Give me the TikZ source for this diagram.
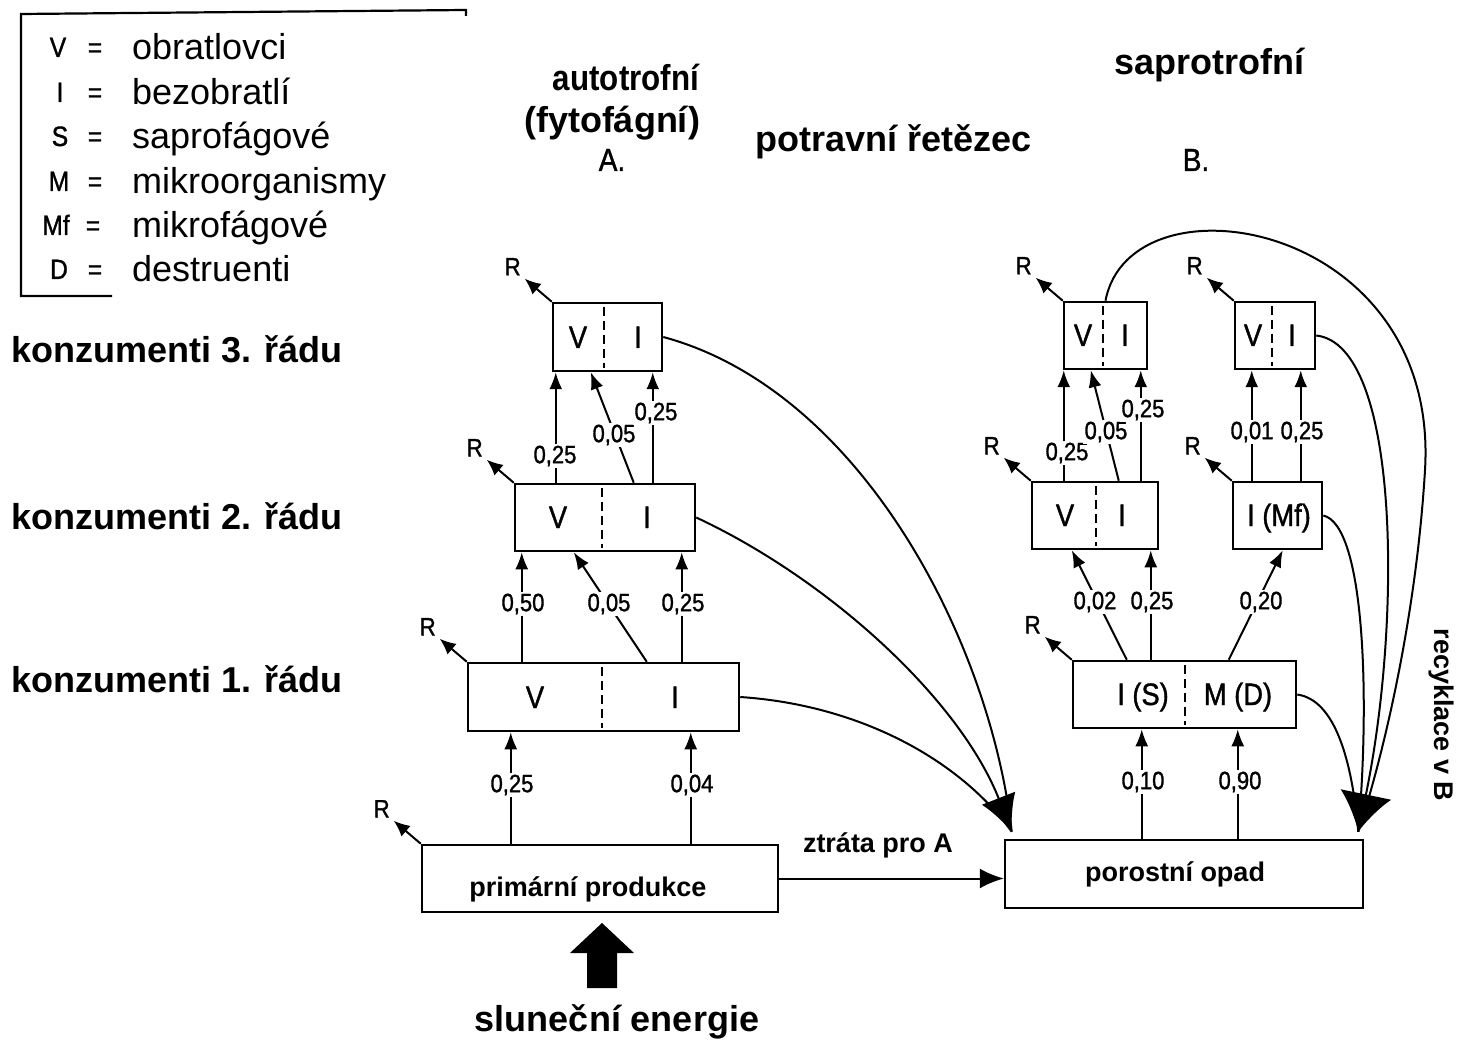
\documentclass[tikz,border=0pt]{standalone}
\usepackage{fontspec}
\usepackage{graphicx}
\setmainfont{Liberation Sans}
\newfontfamily\dinfont[FakeStretch=0.88,FakeBold=1.2]{Liberation Sans}
\usetikzlibrary{arrows.meta,calc}
\begin{document}
\begin{tikzpicture}[x=1pt,y=-1pt,
  box/.style={draw,line width=2.5pt,inner sep=0pt},
  boxtxt/.style={font=\dinfont\fontsize{31}{31}\selectfont,inner sep=0pt,anchor=base},
  lab/.style={fill=white,inner sep=2pt,font=\dinfont\fontsize{25}{25}\selectfont},
  flow/.style={line width=2pt,-{Latex[length=17pt,width=13pt]}},
  rarr/.style={line width=2pt,-{Latex[length=16pt,width=14pt]}},
  rlab/.style={font=\dinfont\fontsize{25}{25}\selectfont,inner sep=0pt},
  curve/.style={line width=2pt},
  bigA/.style={curve,-{Latex[length=36pt,width=36pt]}},
  bigB/.style={curve,-{Latex[length=38pt,width=52pt]}},
  big/.style={font=\fontsize{36}{40}\selectfont\bfseries,inner sep=0pt},
  mid/.style={font=\fontsize{27}{30}\selectfont\bfseries,inner sep=0pt},
  din/.style={font=\dinfont\fontsize{32}{32}\selectfont,inner sep=0pt},
  legtxt/.style={font=\fontsize{36}{40}\selectfont,inner sep=0pt,anchor=base west},
  leglet/.style={font=\dinfont\fontsize{28}{28}\selectfont,inner sep=0pt,anchor=base},
  divider/.style={line width=2pt,dash pattern=on 9pt off 5pt}]
\useasboundingbox (0,0) rectangle (1459,1048);

% ---------- legend ----------
\draw[line width=2.2pt] (112,296) -- (21,296) -- (21,14) -- (466,10) -- (466,16);
\node[leglet] (lV)  at (58,57)  {V};   \node[leglet] (lVe)  at (95,57)  {=};
\node[leglet] (lI)  at (60,102) {I};   \node[leglet] (lIe)  at (95,102) {=};
\node[leglet] (lS)  at (60,146) {S};   \node[leglet] (lSe)  at (95,146) {=};
\node[leglet] (lM)  at (59,191) {M};   \node[leglet] (lMe)  at (95,191) {=};
\node[leglet] (lMf) at (56,235) {Mf};  \node[leglet] (lMfe) at (93,235) {=};
\node[leglet] (lD)  at (59,279) {D};   \node[leglet] (lDe)  at (95,279) {=};
\node[legtxt] (tV)  at (132,60)  {obratlovci};
\node[legtxt] (tI)  at (132,105) {bezobratlí};
\node[legtxt] (tS)  at (132,149) {saprofágové};
\node[legtxt] (tM)  at (132,194) {mikroorganismy};
\node[legtxt] (tMf) at (132,238) {mikrofágové};
\node[legtxt] (tD)  at (132,282) {destruenti};

% ---------- level labels ----------
\node[big,anchor=base west] (k3) at (11,363) {konzumenti 3. řádu};
\node[big,anchor=base west] (k2) at (11,529) {konzumenti 2. řádu};
\node[big,anchor=base west] (k1) at (11,692) {konzumenti 1. řádu};

% ---------- titles ----------
\node[big,anchor=base] (t1) at (626,91)  {\scalebox{0.87}[1]{autotrofní}};
\node[big,anchor=base] (t2) at (612,133) {(fytofágní)};
\node[din,anchor=base] (tA) at (612,171) {A.};
\node[big,anchor=base] (t3) at (894,152) {potravní řetězec};
\node[big,anchor=base] (t4) at (1209,75) {saprotrofní};
\node[din,anchor=base] (tB) at (1196,171) {B.};

% ---------- boxes A ----------
\node[box,minimum width=109,minimum height=68] (a3) at (607.5,337) {};
\node[box,minimum width=180,minimum height=67] (a2) at (605,517.5) {};
\node[box,minimum width=271,minimum height=68] (a1) at (603.5,697) {};
\node[box,minimum width=356,minimum height=67] (pp) at (600,878.5) {};
\draw[divider] ($(a3.north west)+(52,5)$) -- ($(a3.south west)+(52,-4)$);
\draw[divider] ($(a2.north west)+(88,5)$) -- ($(a2.south west)+(88,-4)$);
\draw[divider] ($(a1.north west)+(135,5)$) -- ($(a1.south west)+(135,-4)$);
\node[boxtxt] (a3v) at (578,348) {V};
\node[boxtxt] (a3i) at (638,348) {I};
\node[boxtxt] (a2v) at (558,528) {V};
\node[boxtxt] (a2i) at (647,528) {I};
\node[boxtxt] (a1v) at (535,708) {V};
\node[boxtxt] (a1i) at (675,708) {I};
\node[mid,anchor=base] (ppt) at (588,896) {primární produkce};

% ---------- boxes B ----------
\node[box,minimum width=358,minimum height=68] (opad) at (1184,874) {};
\node[box,minimum width=223,minimum height=67] (is) at (1184.5,694.5) {};
\node[box,minimum width=126,minimum height=67] (b2l) at (1095,515.5) {};
\node[box,minimum width=89,minimum height=67] (mf) at (1277.5,515.5) {};
\node[box,minimum width=83,minimum height=67] (b3l) at (1105.5,335.5) {};
\node[box,minimum width=80,minimum height=67] (b3r) at (1275,335.5) {};
\draw[divider] ($(is.north west)+(113,5)$) -- ($(is.south west)+(113,-4)$);
\draw[divider] ($(b2l.north west)+(65,5)$) -- ($(b2l.south west)+(65,-4)$);
\draw[divider] ($(b3l.north west)+(40,5)$) -- ($(b3l.south west)+(40,-4)$);
\draw[divider] ($(b3r.north west)+(38,5)$) -- ($(b3r.south west)+(38,-4)$);
\node[boxtxt] (b3lv) at (1083,346) {V};
\node[boxtxt] (b3li) at (1125,346) {I};
\node[boxtxt] (b3rv) at (1253,346) {V};
\node[boxtxt] (b3ri) at (1292,346) {I};
\node[boxtxt] (b2lv) at (1065,526) {V};
\node[boxtxt] (b2li) at (1122,526) {I};
\node[boxtxt] (mft) at (1279,526) {I (Mf)};
\node[boxtxt] (ist) at (1143,705) {I (S)};
\node[boxtxt] (imd) at (1238,705) {M (D)};
\node[mid,anchor=base] (opt) at (1175,881) {porostní opad};

% ---------- R arrows ----------
\foreach \b in {a3,a2,a1,pp,is,b2l,mf,b3l,b3r}{
  \coordinate (r\b) at ($(\b.north west)+(-27,-23)$);
  \draw[rarr] (\b.north west) -- (r\b);
  \node[rlab] (R\b) at ($(\b.north west)+(-39,-35)$) {R};
}

% ---------- flows A ----------
\draw[flow] ([xshift=90]pp.north west) -- ([xshift=44]a1.south west);
\draw[flow] ([xshift=270]pp.north west) -- ([xshift=224]a1.south west);
\draw[flow] ([xshift=55]a1.north west) -- ([xshift=8]a2.south west);
\draw[flow] ([xshift=180]a1.north west) -- ([xshift=60]a2.south west);
\draw[flow] ([xshift=215]a1.north west) -- ([xshift=168]a2.south west);
\draw[flow] ([xshift=42]a2.north west) -- ([xshift=4]a3.south west);
\draw[flow] ([xshift=120]a2.north west) -- ([xshift=39]a3.south west);
\draw[flow] ([xshift=139]a2.north west) -- ([xshift=101]a3.south west);
\node[lab] (l1) at (512,785) {0,25};
\node[lab] (l2) at (692,785) {0,04};
\node[lab] (l3) at (523,604) {0,50};
\node[lab] (l4) at (609,604) {0,05};
\node[lab] (l5) at (683,604) {0,25};
\node[lab] (l6) at (555,456) {0,25};
\node[lab] (l7) at (614,435) {0,05};
\node[lab] (l8) at (656,413) {0,25};

% ---------- flows B ----------
\draw[flow] ([xshift=138]opad.north west) -- ([xshift=70]is.south west);
\draw[flow] ([xshift=234]opad.north west) -- ([xshift=166]is.south west);
\draw[flow] ([xshift=55]is.north west) -- ([xshift=41]b2l.south west);
\draw[flow] ([xshift=79]is.north west) -- ([xshift=120]b2l.south west);
\draw[flow] ([xshift=157]is.north west) -- ([xshift=51]mf.south west);
\draw[flow] ([xshift=33]b2l.north west) -- ([xshift=1]b3l.south west);
\draw[flow] ([xshift=88]b2l.north west) -- ([xshift=28]b3l.south west);
\draw[flow] ([xshift=110]b2l.north west) -- ([xshift=78]b3l.south west);
\draw[flow] ([xshift=20]mf.north west) -- ([xshift=18]b3r.south west);
\draw[flow] ([xshift=69]mf.north west) -- ([xshift=67]b3r.south west);
\node[lab] (m1) at (1143,782) {0,10};
\node[lab] (m2) at (1240,782) {0,90};
\node[lab] (m3) at (1095,602) {0,02};
\node[lab] (m4) at (1152,602) {0,25};
\node[lab] (m5) at (1261,602) {0,20};
\node[lab] (m6) at (1067,453) {0,25};
\node[lab] (m7) at (1106,432) {0,05};
\node[lab] (m8) at (1143,410) {0,25};
\node[lab] (m9) at (1252,432) {0,01};
\node[lab] (m10) at (1302,432) {0,25};

% ---------- loss curves A ----------
\coordinate (inA) at ($(opad.north west)+(8,-7)$);
\draw[curve] (a3.east) .. controls (860,390) and (990,640) .. (inA);
\draw[curve] (a1.east) .. controls (860,705) and (960,760) .. (inA);
\draw[bigA] (a2.east) .. controls (830,580) and (960,700) .. (inA);

% ---------- recycling curves B ----------
\coordinate (inB) at ($(opad.north east)+(-6,-7)$);
\draw[curve] (is.east) .. controls (1335,700) and (1352,760) .. (inB);
\draw[curve] (mf.east) .. controls (1365,525) and (1370,700) .. (inB);
\draw[curve] (b3l.north) .. controls (1130,170) and (1440,220) .. (1425,470)
                         .. controls (1416,620) and (1382,760) .. (inB);
\draw[bigB] (b3r.east) .. controls (1400,345) and (1402,620) .. (inB);
\node[mid,rotate=-90] (rec) at (1441,715) {recyklace v B};

% ---------- loss for A ----------
\draw[line width=2pt,-{Latex[length=24pt,width=20pt]}] (pp.east) -- (opad.west |- pp.east);
\node[mid,anchor=base] (zt) at (878,852) {ztráta pro A};

% ---------- solar energy ----------
\node[big,anchor=base] (sun) at (617,1031) {sluneční energie};
\fill (587,988) -- (587,953) -- (570,953) -- (602,923) -- (634,953) -- (617,953) -- (617,988) -- cycle;
\end{tikzpicture}
\end{document}
